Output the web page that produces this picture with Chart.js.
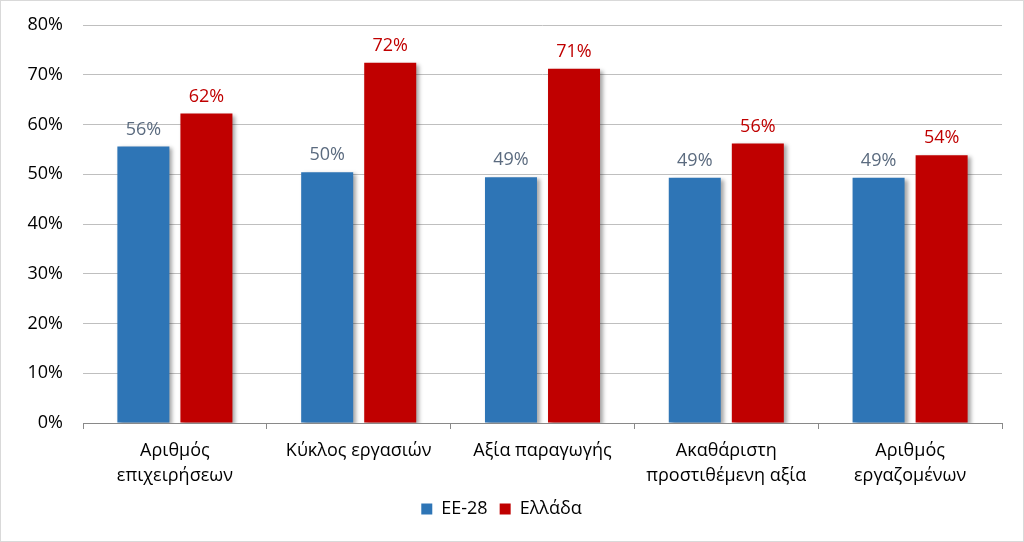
<!DOCTYPE html>
<html lang="el">
<head>
  <meta charset="UTF-8">
  <title>ΕΕ-28 και Ελλάδα</title>
  <script src="https://cdn.jsdelivr.net/npm/chart.js"></script>
  <style>
    html, body {
      margin: 0;
      padding: 0;
      background: #fff;
    }
    #chart-container {
      width: 1024px;
      height: 542px;
      box-sizing: border-box;
      border: 1px solid #d9d9d9;
      background: #fff;
    }
  </style>
</head>
<body>
  <div id="chart-container">
    <canvas id="barChart"></canvas>
  </div>

  <script>
    // κατηγορίες (δύο γραμμές η καθεμία)
    const categories = [
      ['Αριθμός', 'επιχειρήσεων'],
      'Κύκλος εργασιών',
      'Αξία παραγωγής',
      ['Ακαθάριστη', 'προστιθέμενη αξία'],
      ['Αριθμός', 'εργαζομένων']
    ];
    const euValues = [55.6, 50.4, 49.4, 49.3, 49.3];
    const greeceValues = [62.2, 72.4, 71.2, 56.2, 53.8];
    const seriesNames = ['ΕΕ-28', 'Ελλάδα'];
    const yTicks = [0, 10, 20, 30, 40, 50, 60, 70, 80];

    const fontFamily = '"Open Sans", "Noto Sans", sans-serif';

    // σκιά στις μπάρες
    const barShadow = {
      id: 'barShadow',
      beforeDatasetsDraw(chart) {
        const ctx = chart.ctx;
        ctx.save();
        ctx.shadowColor = 'rgba(0,0,0,0.35)';
        ctx.shadowBlur = 4;
        ctx.shadowOffsetX = 3;
        ctx.shadowOffsetY = 2;
      },
      afterDatasetsDraw(chart) {
        chart.ctx.restore();
      }
    };

    // ετικέτες τιμών πάνω από τις μπάρες
    const valueLabels = {
      id: 'valueLabels',
      afterDatasetsDraw(chart) {
        const ctx = chart.ctx;
        ctx.save();
        ctx.font = '18px ' + fontFamily;
        ctx.textAlign = 'center';
        ctx.textBaseline = 'bottom';
        chart.data.datasets.forEach((ds, i) => {
          const meta = chart.getDatasetMeta(i);
          ctx.fillStyle = ds.labelColor;
          meta.data.forEach((bar, j) => {
            ctx.fillText(Math.round(ds.data[j]) + '%', bar.x, bar.y - 8);
          });
        });
        ctx.restore();
      }
    };

    new Chart(document.getElementById('barChart'), {
      type: 'bar',
      data: {
        labels: categories,
        datasets: [
          {
            label: seriesNames[0],
            data: euValues,
            backgroundColor: '#2e75b6',
            labelColor: '#5b6b7f',
            categoryPercentage: 0.686,
            barPercentage: 0.825
          },
          {
            label: seriesNames[1],
            data: greeceValues,
            backgroundColor: '#c00000',
            labelColor: '#c00000',
            categoryPercentage: 0.686,
            barPercentage: 0.825
          }
        ]
      },
      options: {
        responsive: true,
        maintainAspectRatio: false,
        animation: false,
        layout: {
          padding: { top: 24, right: 21, bottom: 13, left: 0 }
        },
        plugins: {
          legend: {
            position: 'bottom',
            labels: {
              boxWidth: 11,
              boxHeight: 11,
              padding: 12,
              color: '#000',
              font: { family: fontFamily, size: 18 }
            }
          },
          tooltip: { enabled: false }
        },
        scales: {
          x: {
            grid: {
              offset: true,
              drawOnChartArea: false,
              tickLength: 6,
              color: '#898989'
            },
            border: { color: '#898989', width: 1 },
            ticks: {
              color: '#000',
              padding: 9,
              font: { family: fontFamily, size: 18, lineHeight: 1.42 },
              maxRotation: 0
            },
            afterFit(scale) { scale.height = 65; }
          },
          y: {
            min: 0,
            max: 80,
            afterBuildTicks(scale) {
              scale.ticks = yTicks.map(v => ({ value: v }));
            },
            grid: {
              color: '#bfbfbf',
              drawTicks: false
            },
            border: { display: false },
            ticks: {
              color: '#000',
              padding: 20,
              font: { family: fontFamily, size: 18 },
              callback: v => v + '%'
            },
            afterFit(scale) {
              scale.width = 82;
              scale.paddingTop = 0;
              scale.paddingBottom = 0;
            }
          }
        }
      },
      plugins: [barShadow, valueLabels]
    });
  </script>
</body>
</html>
